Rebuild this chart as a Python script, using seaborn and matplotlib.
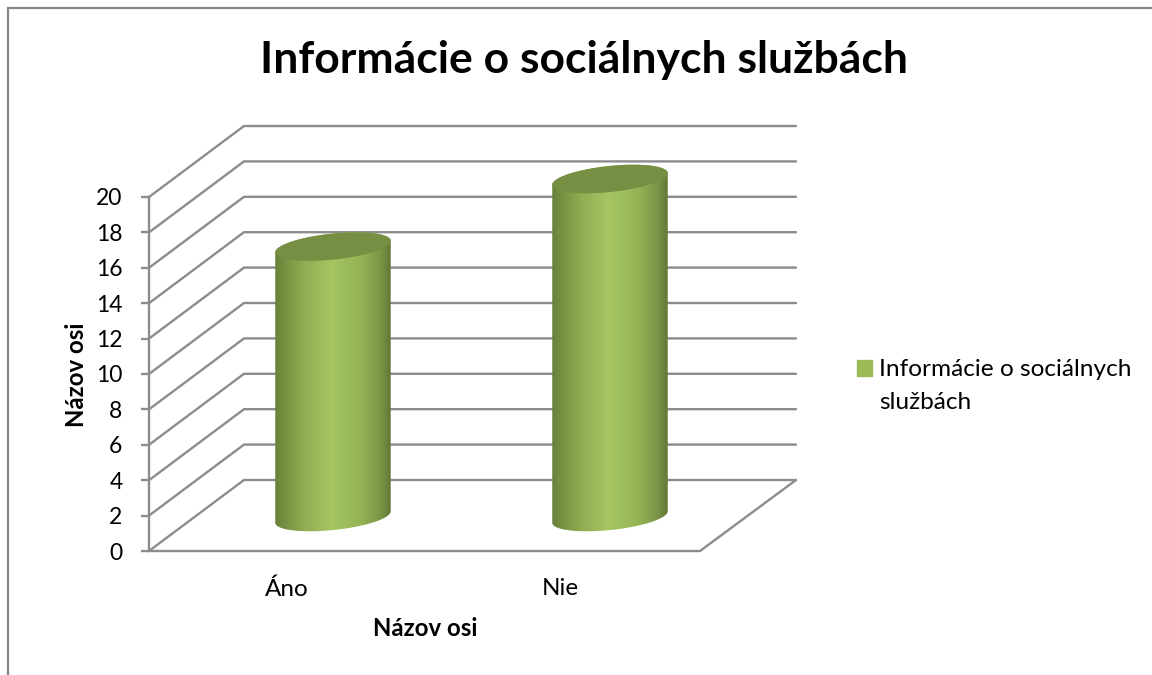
import numpy as np
import pandas as pd
import seaborn as sns
import matplotlib.pyplot as plt
from matplotlib.colors import LinearSegmentedColormap
from matplotlib.patches import Polygon, Patch

# ==========================================
# DATA
# ==========================================

categories = ["Áno", "Nie"]
values = [16, 20]
y_ticks = list(range(0, 21, 2))

title = "Informácie o sociálnych službách"
series_name = "Informácie o sociálnych\nslužbách"
axis_label = "Názov osi"

# ==========================================
# STYLE
# ==========================================

W, H = 1152, 675
GRID = "#8c8c8c"
FRAME = "#868686"
BAR = "#9bbb59"
CAP = "#768f43"

sns.set_theme(style="white")
plt.rcParams["font.family"] = ["Lato", "DejaVu Sans"]

fig = plt.figure(figsize=(W / 100, H / 100), dpi=100, facecolor="white")


def px_axes(left, top, right, bottom, zorder):
    # axes placed by pixel box of the picture
    a = fig.add_axes([left / W, 1 - bottom / H, (right - left) / W, (bottom - top) / H])
    a.set_zorder(zorder)
    a.patch.set_alpha(0)
    return a


# full picture axes, pixel coordinates, for the fake 3D frame
bg = px_axes(0, 0, W, H, 0)
bg.set_xlim(0, W)
bg.set_ylim(H, 0)
bg.axis("off")

top = px_axes(0, 0, W, H, 3)
top.set_xlim(0, W)
top.set_ylim(H, 0)
top.axis("off")

# ==========================================
# FRONT AXIS (ticks and labels)
# ==========================================

wall = px_axes(149, 197, 700, 551, 1)
wall.set_xlim(-0.505, 1.513)
wall.set_ylim(0, 20)
wall.set_yticks(y_ticks)
wall.set_xticks(range(len(categories)))
wall.set_xticklabels(categories)
wall.tick_params(axis="y", length=6, width=1.7, color=GRID, labelsize=16.5, pad=13, left=True, labelcolor="black")
wall.tick_params(axis="x", length=0, labelsize=17.5, pad=19.5, labelcolor="black")
for name in ["top", "right", "bottom"]:
    wall.spines[name].set_visible(False)
wall.spines["left"].set_color(GRID)
wall.spines["left"].set_linewidth(1.7)
wall.set_xlabel(axis_label, fontsize=17.3, fontweight="bold", color="black")
wall.set_ylabel(axis_label, fontsize=17.3, fontweight="bold", color="black")
wall.xaxis.set_label_coords((425 - 149) / 551, (551 - 628) / 354, transform=wall.transAxes)
wall.yaxis.set_label_coords((76 - 149) / 551, (551 - 375) / 354, transform=wall.transAxes)
wall.xaxis.label.set_va("center")
wall.yaxis.label.set_va("center")

# ==========================================
# GRID WALLS
# ==========================================

DX, DY = 95, -71

for v in y_ticks:
    y = wall.transData.transform((0, v))[1]
    y = H - y
    bg.plot([149, 149 + DX, 796], [y, y + DY, y + DY], color=GRID, lw=1.7, solid_joinstyle="miter")

y0 = H - wall.transData.transform((0, 0))[1]
bg.plot([149, 700, 796], [y0, y0, y0 + DY], color=GRID, lw=1.7)

# ==========================================
# BARS
# ==========================================

df = pd.DataFrame({"odpoved": categories, "pocet": values})

# bars stand in the middle of the floor, so they get their own scale
ax = px_axes(194.5, 179, 748.5, 517, 2)
sns.barplot(data=df, x="odpoved", y="pocet", color=BAR, width=0.419, saturation=1, ax=ax)
ax.set_xlim(-0.5, 1.5)
ax.set_ylim(0, 20)
ax.axis("off")

cmap = LinearSegmentedColormap.from_list(
    "cyl",
    [
        (0.00, "#67803a"),
        (0.06, "#738d40"),
        (0.25, "#8fad52"),
        (0.48, "#a5c663"),
        (0.72, "#96b656"),
        (0.90, "#7c9648"),
        (1.00, "#5f7533"),
    ],
)

TILT = np.deg2rad(6)
t = np.linspace(0, 2 * np.pi, 361)[:-1]

for patch in ax.patches:
    (x0, yb), (x1, yt) = ax.transData.transform(
        [(patch.get_x(), 0), (patch.get_x() + patch.get_width(), patch.get_height())]
    )
    # the gradient body below replaces the flat bar
    patch.set_visible(False)
    yb, yt = H - yb, H - yt
    cx = (x0 + x1) / 2
    a = (x1 - x0) / 2
    b = 13

    # tilted ellipse, starting at its leftmost point and going through the bottom
    ex = a * np.cos(t) * np.cos(TILT) - b * np.sin(t) * np.sin(TILT)
    ey = -(a * np.cos(t) * np.sin(TILT) + b * np.sin(t) * np.cos(TILT))
    start = np.argmin(ex)
    ex, ey = np.roll(ex, -start), np.roll(ey, -start)
    mid = np.argmax(ex)

    lower = np.column_stack([cx + ex[: mid + 1], yb + ey[: mid + 1]])
    upper = np.column_stack([cx + ex[mid:], yt + ey[mid:]])
    body = Polygon(np.vstack([lower, upper]), closed=True, transform=top.transData, fc="none", ec="none")
    top.add_patch(body)

    im = top.imshow(
        np.linspace(0, 1, 256).reshape(1, -1),
        cmap=cmap,
        aspect="auto",
        extent=(cx - a, cx + a, yb + 20, yt - 20),
        zorder=2,
    )
    im.set_clip_path(body)

    cap = Polygon(np.column_stack([cx + ex, yt + ey]), closed=True, fc=CAP, ec="none", zorder=3)
    top.add_patch(cap)

top.set_xlim(0, W)
top.set_ylim(H, 0)

# ==========================================
# TEXT, LEGEND, FRAME
# ==========================================

bg.text(584, 60, title, fontsize=32, fontweight="bold", ha="center", va="center", color="black")

leg = bg.legend(
    handles=[Patch(color=BAR, label=series_name)],
    loc="upper left",
    bbox_to_anchor=(857 / W, 1 - 359 / H),
    bbox_transform=fig.transFigure,
    frameon=False,
    fontsize=17.6,
    handlelength=0.62,
    handleheight=0.62,
    handletextpad=0.3,
    borderaxespad=0,
    borderpad=0,
    labelspacing=0,
    labelcolor="black",
)
leg.get_texts()[0].set_linespacing(1.7)
leg.legend_handles[0].set_y(leg.legend_handles[0].get_y() + 13)

bg.plot([W, 8, 8], [7.5, 7.5, H], color=FRAME, lw=1.6, solid_joinstyle="miter", clip_on=False)

plt.savefig("out.png", dpi=100)
